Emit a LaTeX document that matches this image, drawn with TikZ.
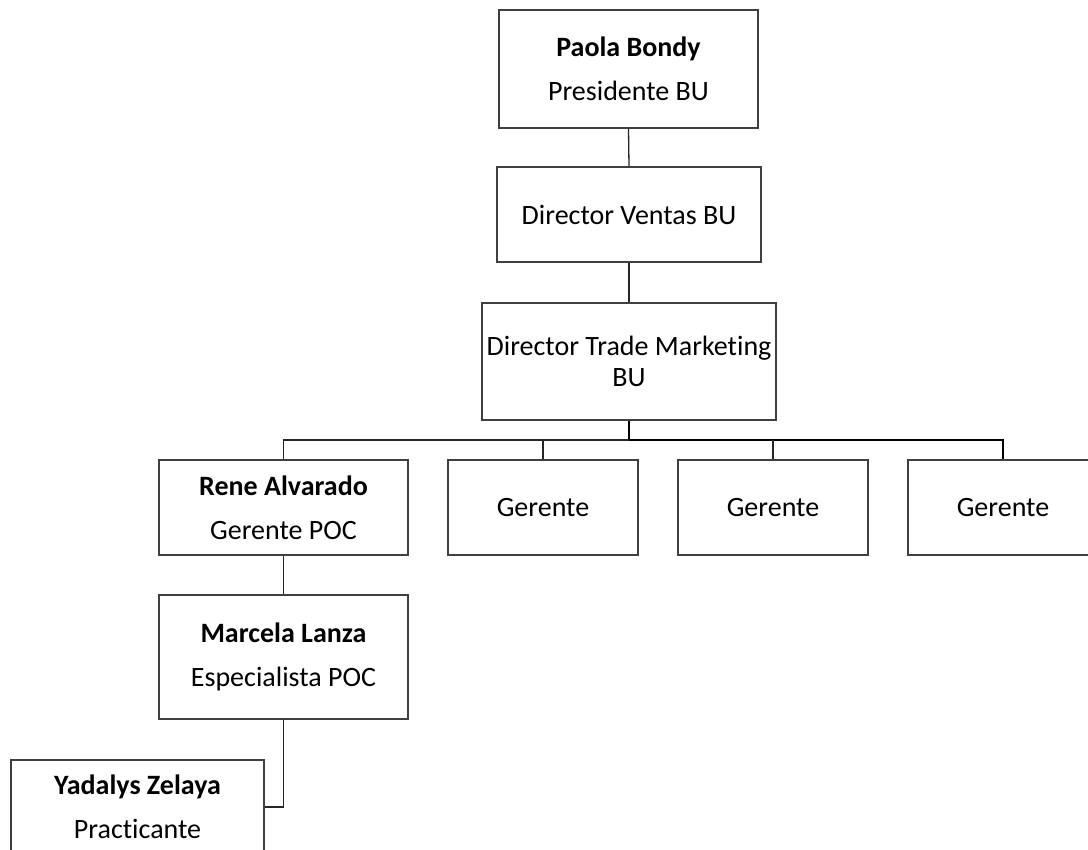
\documentclass[tikz,border=0pt]{standalone}
\usepackage{fontspec}
\setmainfont{Carlito}[Ligatures=NoCommon]
\begin{document}
\begin{tikzpicture}[x=1pt,y=1pt,
  box/.style={draw=black!75, line width=1.2pt, fill=white, rectangle, inner sep=0pt, align=center, font=\fontsize{28}{44}\selectfont},
  link/.style={draw=black!85, line width=1.3pt},
  boldlink/.style={draw=black, line width=2pt}]
\useasboundingbox (0,0) rectangle (1088,-850);
\clip (0,0) rectangle (1088,-850);
\node[box, minimum width=259, minimum height=118] (p1) at (628.5,-69) {\textbf{Paola Bondy}\\Presidente BU};
\node[box, minimum width=264, minimum height=95] (p2) at (629,-214.5) {Director Ventas BU};
\node[box, minimum width=294, minimum height=117, font=\fontsize{28}{31}\selectfont] (p3) at (629,-361.5) {Director Trade Marketing\\BU};
\node[box, minimum width=249, minimum height=95] (rene) at (283.5,-507.5) {\textbf{Rene Alvarado}\\Gerente POC};
\node[box, minimum width=190, minimum height=95] (g1) at (543,-507.5) {Gerente};
\node[box, minimum width=190, minimum height=95] (g2) at (773,-507.5) {Gerente};
\node[box, minimum width=190, minimum height=95] (g3) at (1003,-507.5) {Gerente};
\node[box, minimum width=249, minimum height=124] (mar) at (283.5,-657) {\textbf{Marcela Lanza}\\Especialista POC};
\node[box, minimum width=253, minimum height=94] (yad) at (137.5,-807) {\textbf{Yadalys Zelaya}\\Practicante};
\coordinate (bus) at (629,-440);
\draw[link] (p1.south) -- (p2.north);
\draw[link] (p2.south) -- (p3.north);
\draw[boldlink] (p3.south) -- (bus);
\draw[link] (rene.north) |- (bus);
\draw[link] (g1.north) |- (bus);
\draw[boldlink] (bus) -| (g3.north);
\draw[link] (g2.north) -- (g2.north |- bus);
\draw[link] (rene.south) -- (mar.north);
\draw[link] (mar.south) |- (yad.east);
\end{tikzpicture}
\end{document}
